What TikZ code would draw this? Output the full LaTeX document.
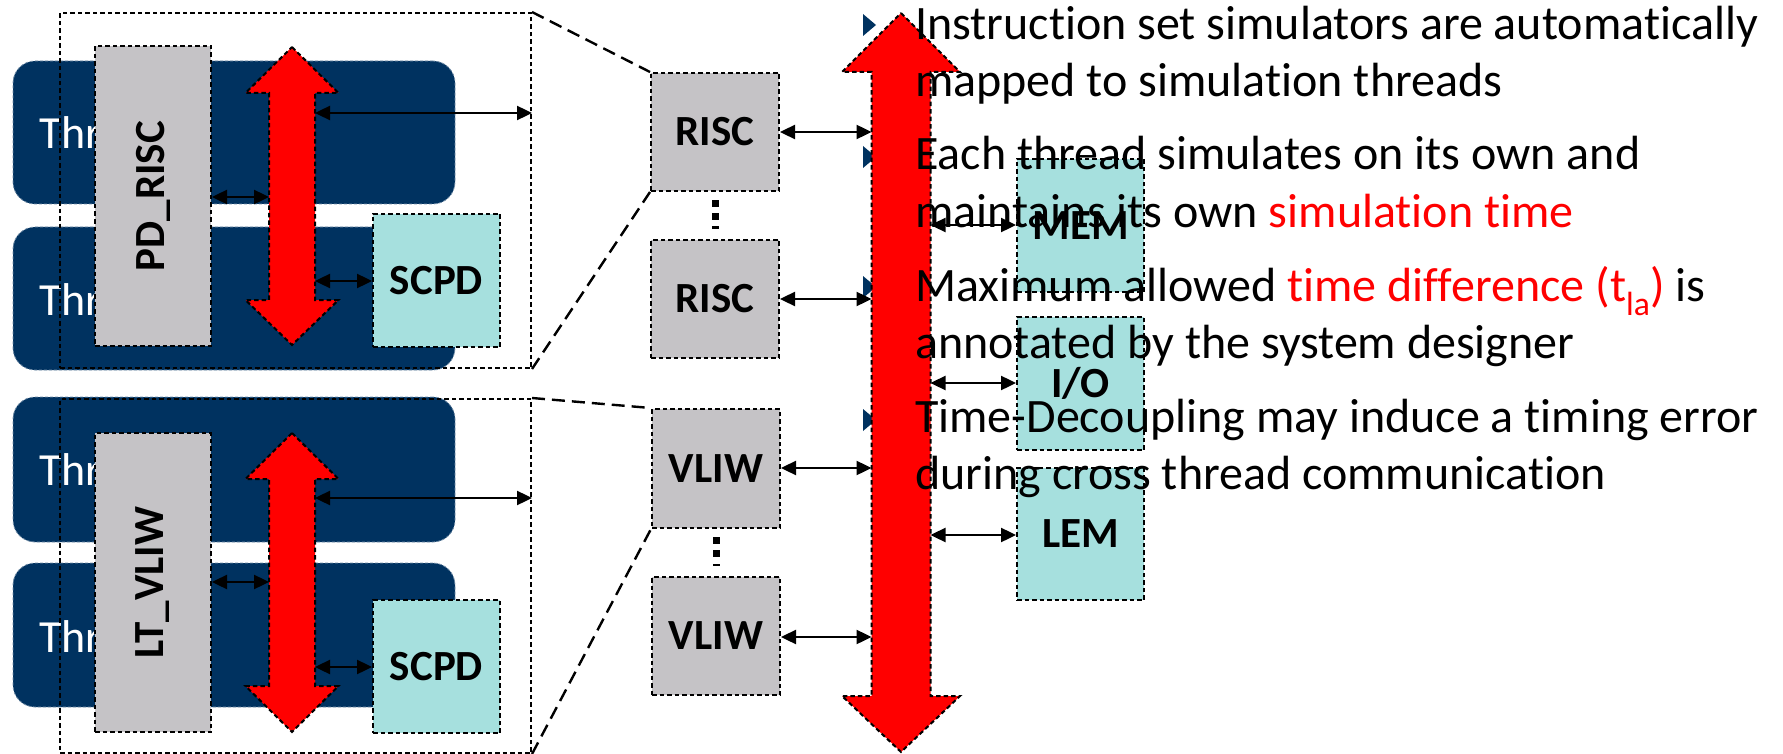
\documentclass[tikz,border=0pt]{standalone}
\usepackage{fontspec}
\setmainfont{Carlito}[Ligatures=NoCommon]
\usetikzlibrary{arrows.meta,calc}
\definecolor{navy}{RGB}{0,50,96}
\definecolor{boxgray}{RGB}{197,195,198}
\definecolor{boxcyan}{RGB}{166,224,222}
\tikzset{
  thread/.style={rectangle, fill=navy, draw=navy!55!white, dash pattern=on 3pt off 2pt, line width=0.8pt, rounded corners=22pt, inner sep=0pt},
  thrtext/.style={anchor=base west, inner sep=0pt, text=white, font=\fontsize{46}{46}\selectfont},
  zoombox/.style={rectangle, draw=black, dash pattern=on 4.5pt off 3pt, line width=2pt, inner sep=0pt},
  graybox/.style={rectangle, fill=boxgray, draw=black, dash pattern=on 4.5pt off 3pt, line width=2pt, inner sep=0pt, font=\fontsize{43}{43}\selectfont\bfseries},
  cyanbox/.style={rectangle, fill=boxcyan, draw=black, dash pattern=on 4.5pt off 3pt, line width=2pt, inner sep=0pt, font=\fontsize{43}{43}\selectfont\bfseries},
  vlabel/.style={rotate=90, inner sep=0pt, font=\fontsize{43}{43}\selectfont\bfseries},
  zoomline/.style={draw=black, dash pattern=on 13pt off 7pt, line width=2.4pt},
  dbl/.style={{Triangle[length=15pt,width=14pt]}-{Triangle[length=15pt,width=14pt]}, line width=2.4pt},
  redarrow/.style={fill=red, draw=black, dash pattern=on 4.5pt off 3pt, line width=2pt, miter limit=20},
  bodytext/.style={anchor=base west, inner sep=0pt, font=\fontsize{48}{58}\selectfont},
  bulletmark/.style={fill=navy}
}
\begin{document}
\begin{tikzpicture}[x=1pt,y=-1pt]
\useasboundingbox (0,0) rectangle (1783,754);

% threads
\node[thread, minimum width=442pt, minimum height=143pt] (th1) at (234,132.5) {};
\node[thread, minimum width=442pt, minimum height=143pt] (th2) at (234,298.5) {};
\node[thread, minimum width=442pt, minimum height=145pt] (th3) at (234,469.5) {};
\node[thread, minimum width=442pt, minimum height=144pt] (th4) at (234,635) {};
\node[thrtext] (th1t) at (39,149) {Thr};
\node[thrtext] (th2t) at (39,315) {Thr};
\node[thrtext] (th3t) at (39,485) {Thr};
\node[thrtext] (th4t) at (39,652) {Thr};

% zoom frames
\node[zoombox, minimum width=471pt, minimum height=355pt] (box1) at (295.5,190.5) {};
\node[zoombox, minimum width=471pt, minimum height=354pt] (box2) at (295.5,576) {};

% gray processor boxes
\node[graybox, minimum width=116pt, minimum height=300pt] (pdrisc) at (153,196) {};
\node[vlabel] (pdrisclbl) at (pdrisc.center) {PD\_RISC};
\node[graybox, minimum width=116pt, minimum height=299pt] (ltvliw) at (153,582.5) {};
\node[vlabel] (ltvliwlbl) at (ltvliw.center) {LT\_VLIW};

% local buses
\draw[redarrow] (292,47) -- (338.5,93) -- (315,93) -- (315,300) -- (338.5,300) -- (292,345)
  -- (245.5,300) -- (269,300) -- (269,93) -- (245.5,93) -- cycle;
\draw[redarrow] (292,433) -- (338.5,479) -- (315,479) -- (315,686) -- (338.5,686) -- (292,732)
  -- (245.5,686) -- (269,686) -- (269,479) -- (245.5,479) -- cycle;
\coordinate (r1L) at (269,197);
\coordinate (r1Ra) at (315,113);
\coordinate (r1Rb) at (315,281);
\coordinate (r2L) at (269,582);
\coordinate (r2Ra) at (315,498);
\coordinate (r2Rb) at (315,667);

% SCPD
\node[cyanbox, minimum width=127pt, minimum height=133pt] (scpd1) at (436.5,280.5) {SCPD};
\node[cyanbox, minimum width=127pt, minimum height=133pt] (scpd2) at (436.5,666.5) {SCPD};

% local arrows
\draw[dbl] (pdrisc.east |- r1L) -- (r1L);
\draw[dbl] (r1Ra) -- (box1.east |- r1Ra);
\draw[dbl] (r1Rb) -- (scpd1.west |- r1Rb);
\draw[dbl] (ltvliw.east |- r2L) -- (r2L);
\draw[dbl] (r2Ra) -- (box2.east |- r2Ra);
\draw[dbl] (r2Rb) -- (scpd2.west |- r2Rb);

% processors
\node[graybox, minimum width=128pt, minimum height=118pt] (risc1) at (715,132) {RISC};
\node[graybox, minimum width=128pt, minimum height=118pt] (risc2) at (715,299) {RISC};
\node[graybox, minimum width=128pt, minimum height=119pt] (vliw1) at (716,468.5) {VLIW};
\node[graybox, minimum width=128pt, minimum height=118pt] (vliw2) at (716,636) {VLIW};
\fill (711.5,200) rectangle (718.5,207);
\fill (711.5,213) rectangle (718.5,220);
\fill (711.5,226.5) rectangle (718.5,229);
\fill (712.5,537) rectangle (719.5,544);
\fill (712.5,550) rectangle (719.5,557);
\fill (712.5,563.5) rectangle (719.5,566);

% zoom lines
\draw[zoomline] (box1.north east) -- (risc1.north west);
\draw[zoomline] (box1.south east) -- (risc1.south west);
\draw[zoomline] (box2.north east) -- (vliw1.north west);
\draw[zoomline] (box2.south east) -- (vliw1.south west);

% bullet marks (under the bus)
\fill[bulletmark] (863,14) -- (876,25) -- (863,36) -- cycle;
\fill[bulletmark] (863,146) -- (876,157) -- (863,168) -- cycle;
\fill[bulletmark] (863,276) -- (876,287) -- (863,298) -- cycle;
\fill[bulletmark] (863,409) -- (876,420) -- (863,431) -- cycle;

% global bus
\draw[redarrow] (901,13) -- (960,72) -- (930.5,72) -- (930.5,696) -- (960,696) -- (901,752)
  -- (842,696) -- (871.5,696) -- (871.5,72) -- (842,72) -- cycle;
\coordinate (bL1) at (871.5,132);
\coordinate (bL2) at (871.5,299);
\coordinate (bL3) at (871.5,468);
\coordinate (bL4) at (871.5,637);
\coordinate (bR1) at (930.5,225);
\coordinate (bR2) at (930.5,383);
\coordinate (bR3) at (930.5,535);

% memories
\node[cyanbox, minimum width=127pt, minimum height=133pt] (mem) at (1080.5,225.5) {MEM};
\node[cyanbox, minimum width=127pt, minimum height=133pt] (io) at (1080.5,383.5) {I/O};
\node[cyanbox, minimum width=127pt, minimum height=132pt] (lem) at (1080.5,534) {LEM};

\draw[dbl] (risc1.east |- bL1) -- (bL1);
\draw[dbl] (risc2.east |- bL2) -- (bL2);
\draw[dbl] (vliw1.east |- bL3) -- (bL3);
\draw[dbl] (vliw2.east |- bL4) -- (bL4);
\draw[dbl] (bR1) -- (mem.west |- bR1);
\draw[dbl] (bR2) -- (io.west |- bR2);
\draw[dbl] (bR3) -- (lem.west |- bR3);

% text
\node[bodytext] (t1a) at (915,40) {Instruction set simulators are automatically};
\node[bodytext] (t1b) at (915,97) {mapped to simulation threads};
\node[bodytext] (t2a) at (915,170) {Each thread simulates on its own and};
\node[bodytext] (t2b) at (915,228) {maintains its own \textcolor{red}{simulation time}};
\node[bodytext] (t3a) at (915,301) {Maximum allowed \textcolor{red}{time difference (t\textsubscript{la})} is};
\node[bodytext] (t3b) at (915,358) {annotated by the system designer};
\node[bodytext] (t4a) at (915,432) {Time-Decoupling may induce a timing error};
\node[bodytext] (t4b) at (915,489) {during cross thread communication};
\end{tikzpicture}
\end{document}
